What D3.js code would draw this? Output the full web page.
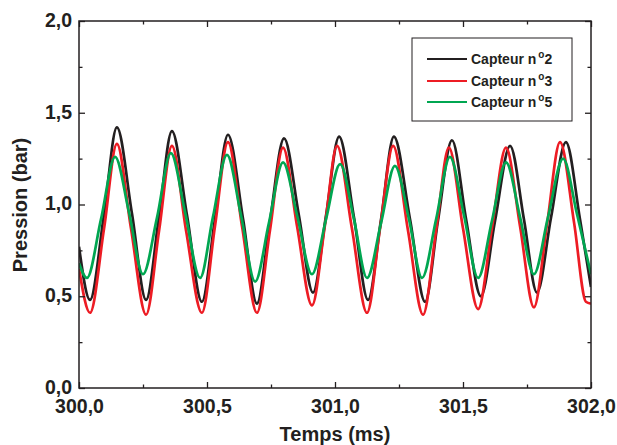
<!DOCTYPE html>
<html>
<head>
<meta charset="utf-8">
<script src="https://cdn.jsdelivr.net/npm/d3@7"></script>
<style>
  html, body { margin: 0; padding: 0; background: #fff; }
  svg { display: block; }
  text { font-family: "Liberation Sans", Arial, Helvetica, sans-serif; font-weight: bold; fill: #231f20; }
</style>
</head>
<body>
<svg id="chart" width="617" height="445"></svg>
<script>
// ---- data ----
const seriesNames = ["Capteur n", "Capteur n", "Capteur n"];
const seriesNums = ["2", "3", "5"];
const seriesColors = ["#231f20", "#ed1c24", "#00a651"];

const timeC2 = [300.000,300.043,300.098,300.148,300.207,300.262,300.313,300.363,300.422,300.480,300.531,300.582,300.641,300.695,300.746,300.801,300.859,300.914,300.965,301.016,301.074,301.129,301.180,301.230,301.293,301.352,301.402,301.457,301.512,301.570,301.625,301.684,301.738,301.789,301.844,301.902,301.957,302.000];
const presC2 = [0.77,0.48,0.95,1.42,0.95,0.48,0.94,1.40,0.94,0.47,0.92,1.38,0.92,0.46,0.91,1.36,0.94,0.52,0.94,1.37,0.93,0.48,0.92,1.37,0.92,0.47,0.91,1.35,0.92,0.50,0.91,1.32,0.92,0.52,0.93,1.34,0.92,0.55];

const timeC3 = [300.000,300.043,300.098,300.148,300.203,300.262,300.313,300.363,300.418,300.480,300.531,300.582,300.637,300.695,300.746,300.797,300.852,300.910,300.961,301.008,301.066,301.125,301.176,301.227,301.285,301.344,301.395,301.445,301.500,301.559,301.613,301.668,301.723,301.777,301.828,301.879,301.934,301.980,302.000];
const presC3 = [0.65,0.41,0.87,1.33,0.87,0.40,0.86,1.32,0.86,0.41,0.88,1.34,0.88,0.41,0.86,1.31,0.88,0.45,0.89,1.32,0.87,0.41,0.87,1.32,0.86,0.40,0.86,1.31,0.87,0.43,0.87,1.31,0.88,0.44,0.89,1.34,0.90,0.47,0.46];

const timeC5 = [300.000,300.031,300.086,300.141,300.195,300.250,300.305,300.359,300.414,300.473,300.523,300.578,300.633,300.688,300.742,300.797,300.852,300.910,300.965,301.020,301.074,301.125,301.180,301.234,301.289,301.340,301.395,301.449,301.504,301.559,301.613,301.668,301.723,301.777,301.832,301.891,301.945,302.000];
const presC5 = [0.68,0.60,0.92,1.26,0.96,0.62,0.93,1.28,0.96,0.60,0.93,1.27,0.94,0.58,0.90,1.23,0.94,0.62,0.92,1.22,0.92,0.60,0.90,1.21,0.92,0.60,0.92,1.26,0.94,0.60,0.91,1.23,0.93,0.62,0.93,1.25,0.95,0.62];

const xTicks = [300.0, 300.5, 301.0, 301.5, 302.0];
const xMinorTicks = [300.25, 300.75, 301.25, 301.75];
const yTicks = [0.0, 0.5, 1.0, 1.5, 2.0];
const yMinorTicks = [0.25, 0.75, 1.25, 1.75];
const xTitle = "Temps (ms)";
const yTitle = "Pression (bar)";

// ---- drawing ----
const svg = d3.select("#chart");
const L = 79, R = 591, T = 21, B = 388;
const x = d3.scaleLinear().domain([300, 302]).range([L, R]);
const y = d3.scaleLinear().domain([0, 2]).range([B, T]);
const fmt = v => d3.format(".1f")(v).replace(".", ",");

const series = [
  {t: timeC2, v: presC2},
  {t: timeC3, v: presC3},
  {t: timeC5, v: presC5}
];

const plot = svg.append("g");
svg.append("clipPath").attr("id", "clip")
  .append("rect").attr("x", L).attr("y", T).attr("width", R - L).attr("height", B - T);

const line = d3.line()
  .x(d => x(d[0])).y(d => y(d[1]))
  .curve(d3.curveMonotoneX);

series.forEach((s, i) => {
  const pts = s.t.map((t, k) => [t, s.v[k]]);
  plot.append("path")
    .datum(pts)
    .attr("clip-path", "url(#clip)")
    .attr("fill", "none")
    .attr("stroke", seriesColors[i])
    .attr("stroke-width", 2.7)
    .attr("stroke-linejoin", "round")
    .attr("d", line);
});

function styleAxis(g) {
  g.selectAll(".domain").remove();
  g.selectAll(".tick line").attr("stroke", "#231f20").attr("stroke-width", 1.3);
  g.selectAll("text").attr("font-size", 19.5).attr("font-weight", "bold")
    .attr("font-family", "'Liberation Sans', Arial, sans-serif").attr("fill", "#231f20");
}

// bottom
svg.append("g").attr("transform", `translate(0,${B})`)
  .call(d3.axisBottom(x).tickValues(xTicks).tickFormat(fmt).tickSizeInner(-6).tickSizeOuter(0).tickPadding(11))
  .call(styleAxis);
svg.append("g").attr("transform", `translate(0,${B})`)
  .call(d3.axisBottom(x).tickValues(xMinorTicks).tickFormat("").tickSizeInner(-3.5).tickSizeOuter(0))
  .call(styleAxis);
// top
svg.append("g").attr("transform", `translate(0,${T})`)
  .call(d3.axisTop(x).tickValues(xTicks).tickFormat("").tickSizeInner(-6).tickSizeOuter(0))
  .call(styleAxis);
svg.append("g").attr("transform", `translate(0,${T})`)
  .call(d3.axisTop(x).tickValues(xMinorTicks).tickFormat("").tickSizeInner(-3.5).tickSizeOuter(0))
  .call(styleAxis);
// left
const yAxisG = svg.append("g").attr("transform", `translate(${L},0)`)
  .call(d3.axisLeft(y).tickValues(yTicks).tickFormat(fmt).tickSizeInner(-6).tickSizeOuter(0).tickPadding(7))
  .call(styleAxis);
yAxisG.selectAll("text").attr("dy", "0.28em");
svg.append("g").attr("transform", `translate(${L},0)`)
  .call(d3.axisLeft(y).tickValues(yMinorTicks).tickFormat("").tickSizeInner(-3.5).tickSizeOuter(0))
  .call(styleAxis);
// right
svg.append("g").attr("transform", `translate(${R},0)`)
  .call(d3.axisRight(y).tickValues(yTicks).tickFormat("").tickSizeInner(-6).tickSizeOuter(0))
  .call(styleAxis);
svg.append("g").attr("transform", `translate(${R},0)`)
  .call(d3.axisRight(y).tickValues(yMinorTicks).tickFormat("").tickSizeInner(-3.5).tickSizeOuter(0))
  .call(styleAxis);

// frame
svg.append("rect").attr("x", L).attr("y", T).attr("width", R - L).attr("height", B - T)
  .attr("fill", "none").attr("stroke", "#231f20").attr("stroke-width", 1.5);

// axis titles
svg.append("text").attr("x", (L + R) / 2).attr("y", 441).attr("text-anchor", "middle")
  .attr("font-size", 20).text(xTitle);
svg.append("text").attr("transform", `translate(27,205) rotate(-90)`).attr("text-anchor", "middle")
  .attr("font-size", 20).text(yTitle);

// legend
const lg = svg.append("g");
lg.append("rect").attr("x", 412).attr("y", 38).attr("width", 160).attr("height", 83)
  .attr("fill", "#fff").attr("stroke", "#231f20").attr("stroke-width", 1);
const rowY = [59, 81, 102];
seriesColors.forEach((c, i) => {
  lg.append("line").attr("x1", 427).attr("x2", 467).attr("y1", rowY[i]).attr("y2", rowY[i])
    .attr("stroke", c).attr("stroke-width", 2);
  const t = lg.append("text").attr("x", 471).attr("y", rowY[i] + 5).attr("font-size", 14);
  t.append("tspan").text(seriesNames[i]);
  t.append("tspan").attr("dx", 2).attr("dy", -6).attr("font-size", 10).text("o");
  t.append("tspan").attr("dy", 6).text(seriesNums[i]);
});
</script>
</body>
</html>
